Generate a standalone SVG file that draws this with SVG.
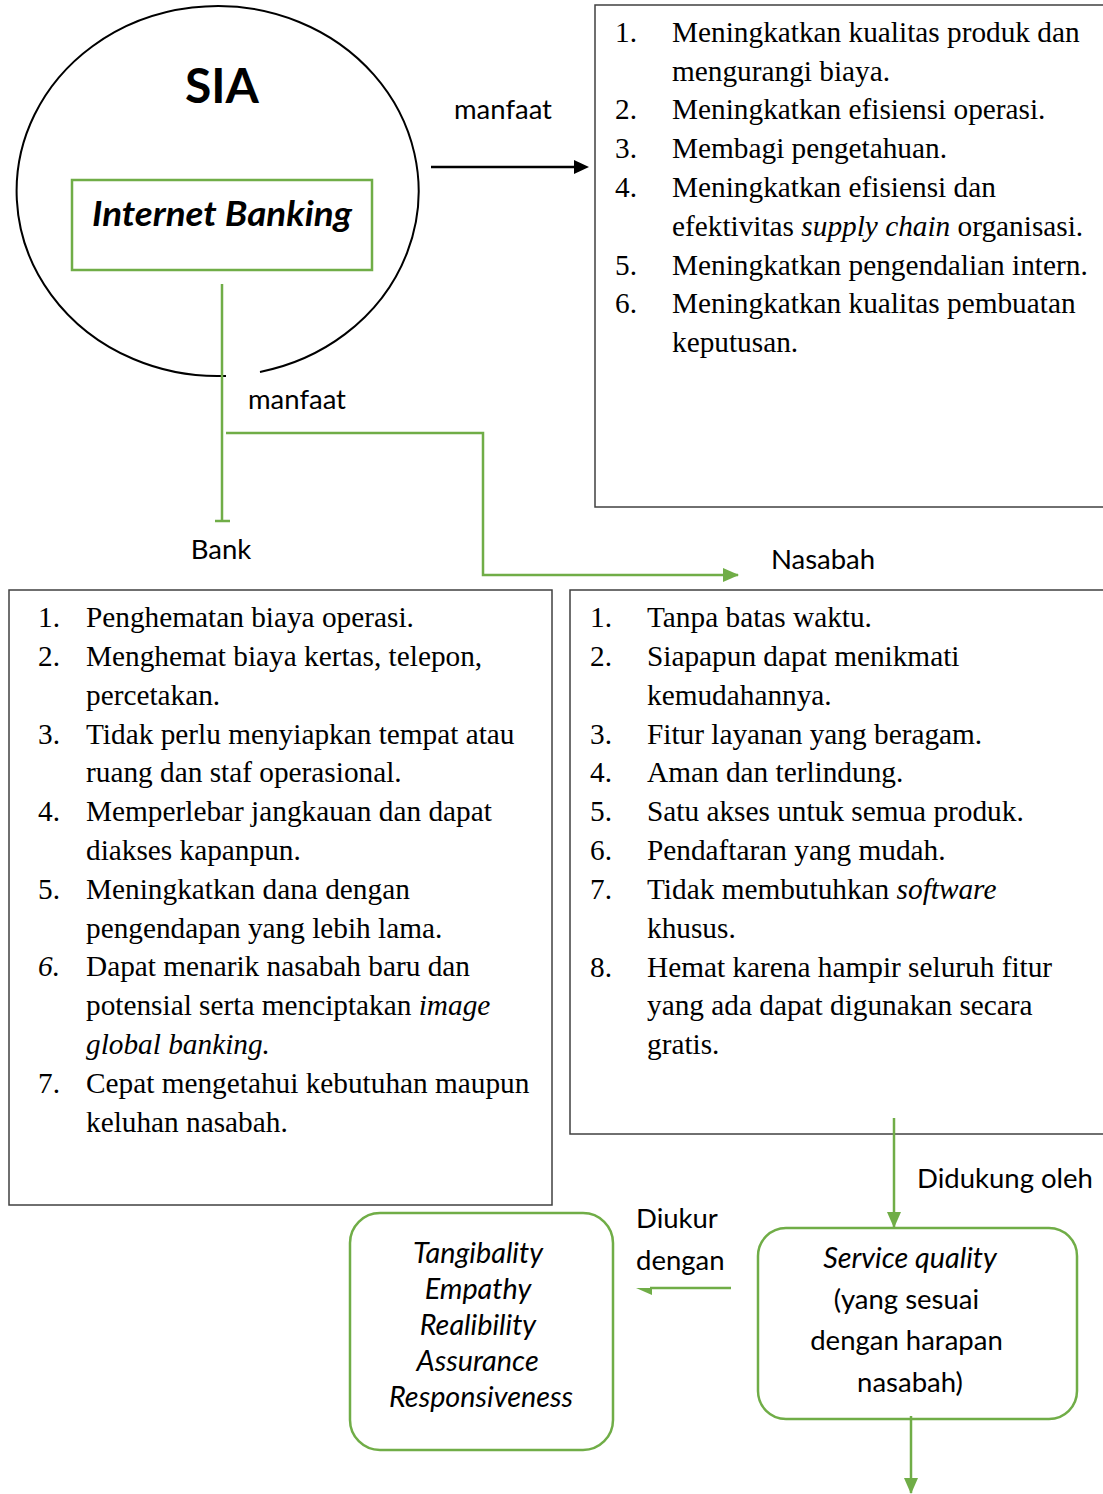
<svg xmlns="http://www.w3.org/2000/svg" width="1103" height="1494" viewBox="0 0 1103 1494">
<style>
.s{font-family:Lato,"Liberation Sans",sans-serif;font-size:27.5px;fill:#000}
.si{font-family:Lato,"Liberation Sans",sans-serif;font-size:28.8px;font-style:italic;fill:#000}
.t{font-family:"Liberation Serif","Times New Roman",serif;font-size:29.3px;fill:#000}
.i{font-style:italic}
.g{stroke:#70AD47;stroke-width:2.5;fill:none}
.box{stroke:#404040;stroke-width:1.5;fill:none}
.c{text-anchor:middle}
</style>
<defs>
<marker id="ga" markerWidth="16" markerHeight="14" refX="15" refY="7" orient="auto" markerUnits="userSpaceOnUse" viewBox="0 0 16 14"><path d="M0,0 L16,7 L0,14 z" fill="#70AD47"/></marker>
</defs>
<rect width="1103" height="1494" fill="#fff"/>
<g id="sia">
<path d="M226,375.9 A201,185 0 1 1 260,371.9" fill="none" stroke="#000" stroke-width="2"/>
<text x="222" y="103" class="c" style="font-family:Lato,'Liberation Sans',sans-serif;font-size:48px;font-weight:bold">SIA</text>
</g>
<g id="internet-banking">
<rect x="72" y="180" width="300" height="90" class="g"/>
<text x="222" y="226" class="c" textLength="260" lengthAdjust="spacingAndGlyphs" style="font-family:Lato,'Liberation Sans',sans-serif;font-size:34px;font-weight:bold;font-style:italic">Internet Banking</text>
</g>
<g id="manfaat-list">
<rect x="595" y="5" width="520" height="502" class="box"/>
<text class="t">
<tspan x="615" y="42">1.</tspan><tspan x="672" y="42">Meningkatkan kualitas produk dan</tspan>
<tspan x="672" y="81">mengurangi biaya.</tspan>
<tspan x="615" y="119">2.</tspan><tspan x="672" y="119">Meningkatkan efisiensi operasi.</tspan>
<tspan x="615" y="158">3.</tspan><tspan x="672" y="158">Membagi pengetahuan.</tspan>
<tspan x="615" y="197">4.</tspan><tspan x="672" y="197">Meningkatkan efisiensi dan</tspan>
<tspan x="672" y="236">efektivitas <tspan class="i">supply chain</tspan> organisasi.</tspan>
<tspan x="615" y="275">5.</tspan><tspan x="672" y="275">Meningkatkan pengendalian intern.</tspan>
<tspan x="615" y="313">6.</tspan><tspan x="672" y="313">Meningkatkan kualitas pembuatan</tspan>
<tspan x="672" y="352">keputusan.</tspan>
</text>
</g>
<g id="bank-list">
<rect x="9" y="590" width="543" height="615" class="box"/>
<text class="t">
<tspan x="38" y="627">1.</tspan><tspan x="86" y="627">Penghematan biaya operasi.</tspan>
<tspan x="38" y="666">2.</tspan><tspan x="86" y="666">Menghemat biaya kertas, telepon,</tspan>
<tspan x="86" y="705">percetakan.</tspan>
<tspan x="38" y="744">3.</tspan><tspan x="86" y="744">Tidak perlu menyiapkan tempat atau</tspan>
<tspan x="86" y="782">ruang dan staf operasional.</tspan>
<tspan x="38" y="821">4.</tspan><tspan x="86" y="821">Memperlebar jangkauan dan dapat</tspan>
<tspan x="86" y="860">diakses kapanpun.</tspan>
<tspan x="38" y="899">5.</tspan><tspan x="86" y="899">Meningkatkan dana dengan</tspan>
<tspan x="86" y="938">pengendapan yang lebih lama.</tspan>
<tspan x="38" y="976" class="i">6.</tspan><tspan x="86" y="976">Dapat menarik nasabah baru dan</tspan>
<tspan x="86" y="1015">potensial serta menciptakan <tspan class="i">image</tspan></tspan>
<tspan x="86" y="1054" class="i">global banking.</tspan>
<tspan x="38" y="1093">7.</tspan><tspan x="86" y="1093">Cepat mengetahui kebutuhan maupun</tspan>
<tspan x="86" y="1132">keluhan nasabah.</tspan>
</text>
</g>
<g id="nasabah-list">
<rect x="570" y="590" width="545" height="544" class="box"/>
<text class="t">
<tspan x="590" y="627">1.</tspan><tspan x="647" y="627">Tanpa batas waktu.</tspan>
<tspan x="590" y="666">2.</tspan><tspan x="647" y="666">Siapapun dapat menikmati</tspan>
<tspan x="647" y="705">kemudahannya.</tspan>
<tspan x="590" y="744">3.</tspan><tspan x="647" y="744">Fitur layanan yang beragam.</tspan>
<tspan x="590" y="782">4.</tspan><tspan x="647" y="782">Aman dan terlindung.</tspan>
<tspan x="590" y="821">5.</tspan><tspan x="647" y="821">Satu akses untuk semua produk.</tspan>
<tspan x="590" y="860">6.</tspan><tspan x="647" y="860">Pendaftaran yang mudah.</tspan>
<tspan x="590" y="899">7.</tspan><tspan x="647" y="899">Tidak membutuhkan <tspan class="i">software</tspan></tspan>
<tspan x="647" y="938">khusus.</tspan>
<tspan x="590" y="977">8.</tspan><tspan x="647" y="977">Hemat karena hampir seluruh fitur</tspan>
<tspan x="647" y="1015">yang ada dapat digunakan secara</tspan>
<tspan x="647" y="1054">gratis.</tspan>
</text>
</g>
<g id="dimensions">
<rect x="350" y="1213" width="263" height="237" rx="30" class="g"/>
<text class="si c">
<tspan x="481" y="1263">Tangibality</tspan>
<tspan x="481" y="1299">Empathy</tspan>
<tspan x="481" y="1335">Realibility</tspan>
<tspan x="481" y="1371">Assurance</tspan>
<tspan x="481" y="1407">Responsiveness</tspan>
</text>
</g>
<g id="service-quality">
<rect x="758" y="1228" width="319" height="191" rx="28" class="g"/>
<text x="910" y="1268" class="si c">Service quality</text>
<text class="s c">
<tspan x="910" y="1309">(yang sesuai</tspan>
<tspan x="910" y="1350">dengan harapan</tspan>
<tspan x="910" y="1392">nasabah)</tspan>
</text>
</g>
<g id="labels">
<text x="503" y="119" class="s c">manfaat</text>
<text x="297" y="409" class="s c">manfaat</text>
<text x="221" y="559" class="s c">Bank</text>
<text x="823" y="569" class="s c">Nasabah</text>
<text x="1005" y="1188" class="s c">Didukung oleh</text>
<text x="636" y="1228" class="s">Diukur</text>
<text x="636" y="1270" class="s">dengan</text>
</g>
<g id="connectors">
<line x1="431" y1="167" x2="576" y2="167" stroke="#000" stroke-width="2.5"/>
<path d="M574,160 L589,167 L574,174 z" fill="#000"/>
<path d="M222,284 V521 M215,521 H230" class="g"/>
<path d="M226,433 H483 V575 H738" class="g" marker-end="url(#ga)"/>
<path d="M894,1118 V1227" class="g" marker-end="url(#ga)"/>
<path d="M731,1288 H650" class="g"/>
<path d="M636,1288 L652,1288 L652,1295 z" fill="#70AD47"/>
<path d="M911,1416 V1493" class="g" marker-end="url(#ga)"/>
</g>
</svg>
